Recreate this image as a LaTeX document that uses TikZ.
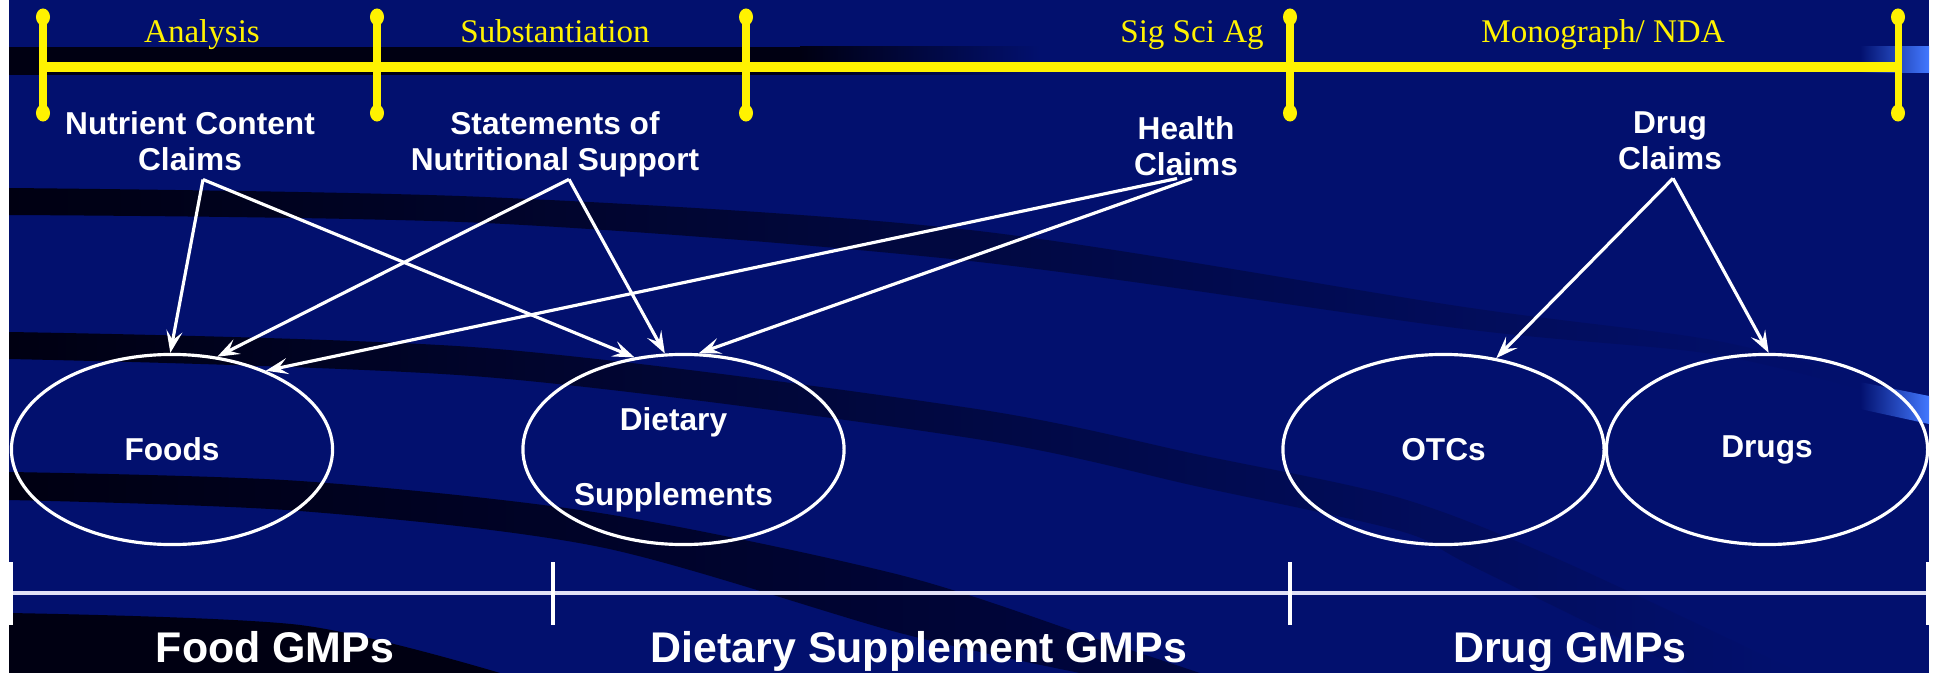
\documentclass[tikz,border=0pt]{standalone}
\usepackage{fontspec}
\setmainfont{Liberation Serif}
\setsansfont{Liberation Sans}
\usetikzlibrary{shapes.geometric,arrows.meta}
\definecolor{navy}{RGB}{2,16,110}
\definecolor{band}{RGB}{0,0,18}
\definecolor{bandmid}{RGB}{0,6,64}
\definecolor{hilite}{RGB}{66,120,255}
\definecolor{gmpline}{RGB}{225,225,245}

\begin{document}
\begin{tikzpicture}[x=0.01cm,y=-0.01cm,
    phase/.style={text=yellow,font=\rmfamily\fontsize{9.4}{11}\selectfont,inner sep=0pt,anchor=base},
    claim/.style={text=white,font=\sffamily\bfseries\fontsize{9}{10.2}\selectfont,align=center,inner sep=0pt,anchor=north},
    product/.style={ellipse,draw=white,line width=0.9pt,minimum width=3.21cm,minimum height=1.90cm,inner sep=0pt,
        text=white,font=\sffamily\bfseries\fontsize{9}{10.2}\selectfont,align=center},
    gmp/.style={text=white,font=\sffamily\bfseries\fontsize{12.2}{14}\selectfont,inner sep=0pt,anchor=base},
    claimarrow/.style={draw=white,line width=0.9pt,-{Stealth[length=0.22cm,width=0.16cm,inset=0.09cm]}}]
    \useasboundingbox (0,0) rectangle (1939,673);
    \fill[navy] (9,0) rectangle (1929,673);
    % dark swooshes
    \fill[band] (9,47) rectangle (800,75);
    \shade[left color=band,right color=navy] (800,47) rectangle (1040,75);
    \shade[left color=band,middle color=bandmid,right color=navy]
        plot[smooth] coordinates {(9,188) (485,197) (970,230) (1464,307) (1712,340) (1870,380)}
        -- plot[smooth] coordinates {(1870,392) (1712,354) (1464,329) (970,261) (485,223) (9,215)} -- cycle;
    \shade[left color=band,middle color=bandmid,right color=navy]
        plot[smooth] coordinates {(9,332) (485,348) (970,408) (1200,455) (1400,498) (1560,560) (1800,673)}
        -- plot[smooth] coordinates {(1690,673) (1470,565) (1400,531) (1200,487) (970,438) (485,377) (9,359)} -- cycle;
    \shade[left color=band,right color=bandmid]
        plot[smooth] coordinates {(9,472) (300,481) (600,513) (900,575) (1100,640) (1200,673)}
        -- plot[smooth] coordinates {(1080,673) (900,633) (600,547) (300,511) (9,500)} -- cycle;
    \fill[band] plot[smooth] coordinates {(9,613) (300,625) (500,673)} -- (9,673) -- cycle;
    \shade[left color=navy,right color=hilite] (1860,47) rectangle (1929,73);
    \shade[left color=navy,right color=hilite] (1860,382) -- (1929,396) -- (1929,424) -- (1860,409) -- cycle;
    %\draw[red] (0,0) grid[step=100] (1939,673);

    % yellow time line
    \draw[yellow,line width=3.1pt] (43,67) -- (1898,67);
    \foreach \x in {43,377,746,1290,1898} {
        \draw[yellow,line width=2pt] (\x,17) -- (\x,113);
        \fill[yellow] (\x,17) ellipse (0.07cm and 0.085cm);
        \fill[yellow] (\x,113) ellipse (0.07cm and 0.085cm);
    }
    \node[phase] (analysis) at (202,43) {Analysis};
    \node[phase] (subst) at (555,43) {Substantiation};
    \node[phase] (sigsci) at (1192,43) {Sig Sci Ag};
    \node[phase] (mono) at (1603,43) {Monograph/ NDA};

    \node[claim] (ncc) at (190,111) {Nutrient Content\\Claims};
    \node[claim] (nsupport) at (555,111) {Statements of\\Nutritional Support};
    \node[claim] (health) at (1186,116) {Health\\Claims};
    \node[claim] (drugcl) at (1670,111) {Drug\\Claims};

    \node[product] (foods) at (172,449.5) {Foods};
    \node[product,text depth=0pt] (suppl) at (683.5,449.5)
        {\rule{0pt}{10.5pt}Dietary\hspace*{0.2cm}\\[11pt]Supplements\hspace*{0.2cm}};
    \node[product] (otcs) at (1443.5,449.5) {OTCs};
    \node[product] (drugs) at (1767,449.5) {Drugs};

    \draw[claimarrow] ([xshift=0.13cm,yshift=-0.08cm]ncc.south) -- (foods.91);
    \draw[claimarrow] ([xshift=0.13cm,yshift=-0.08cm]ncc.south) -- (suppl.118);
    \draw[claimarrow] ([xshift=0.14cm,yshift=-0.015cm]nsupport.south) -- (foods.64);
    \draw[claimarrow] ([xshift=0.14cm,yshift=-0.015cm]nsupport.south) -- (suppl.101);
    \draw[claimarrow] ([xshift=-0.09cm,yshift=-0.02cm]health.south) -- (foods.40);
    \draw[claimarrow] ([xshift=0.06cm,yshift=-0.02cm]health.south) -- (suppl.81);
    \draw[claimarrow] ([xshift=0.03cm,yshift=-0.08cm]drugcl.south) -- (otcs.60);
    \draw[claimarrow] ([xshift=0.03cm,yshift=-0.08cm]drugcl.south) -- (drugs.89);

    % GMP scale
    \draw[gmpline,line width=1.1pt] (11,593) -- (1928,593);
    \foreach \x in {11,553,1290,1928}
        \draw[white,line width=1.2pt] (\x,562) -- (\x,625);
    \node[gmp] (foodgmp) at (275,662) {Food GMPs};
    \node[gmp] (dsgmp) at (919,662) {Dietary Supplement GMPs};
    \node[gmp] (druggmp) at (1570,662) {Drug GMPs};
\end{tikzpicture}
\end{document}
